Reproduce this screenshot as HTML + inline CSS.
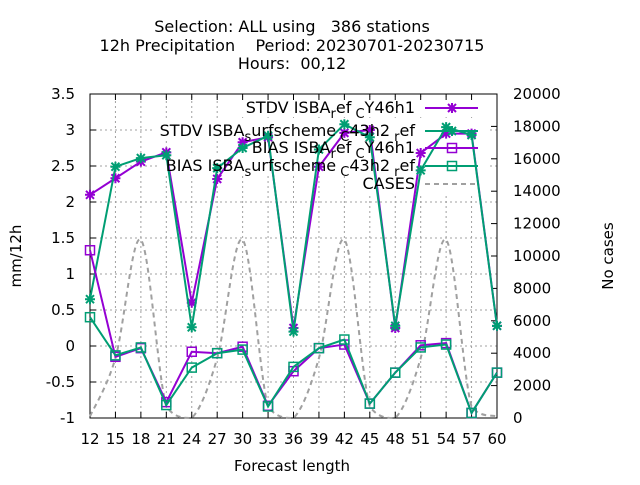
<!DOCTYPE html>
<html><head><meta charset="utf-8"><style>
body{margin:0;background:#fff}
svg{font-family:"DejaVu Sans","Liberation Sans",sans-serif;font-size:15px}
.big{font-size:16px}
</style></head><body>
<svg id="c" width="640" height="480">
<g id="g"></g>
</svg>
<script>
const hours=[12,15,18,21,24,27,30,33,36,39,42,45,48,51,54,57,60];
const stdvRef=[2.1,2.33,2.56,2.69,0.6,2.32,2.83,2.9,0.25,2.49,2.96,3.0,0.25,2.68,2.95,2.95,0.28];
const stdvSurf=[0.65,2.49,2.61,2.65,0.26,2.47,2.75,2.92,0.2,2.73,3.08,2.9,0.28,2.44,3.04,2.93,0.28];
const biasRef=[1.33,-0.15,-0.03,-0.78,-0.08,-0.1,-0.01,-0.83,-0.35,-0.03,0.02,-0.8,-0.37,0.01,0.04,-0.93,-0.37];
const biasSurf=[0.4,-0.13,-0.02,-0.82,-0.3,-0.1,-0.05,-0.84,-0.29,-0.03,0.09,-0.8,-0.37,-0.02,0.02,-0.93,-0.37];
const cases=[100,3700,11000,700,0,3700,11000,700,0,3700,11000,700,0,3700,11000,700,100];
const yTicks=[-1,-0.5,0,0.5,1,1.5,2,2.5,3,3.5];
const y2Ticks=[0,2000,4000,6000,8000,10000,12000,14000,16000,18000,20000];
const X0=90,X1=497,Y0=418,Y1=94;
const xs=h=>X0+(h-12)/(60-12)*(X1-X0);
const ys=v=>Y0-(v+1)/4.5*(Y0-Y1);
const y2=v=>Y0-v/20000*(Y0-Y1);
const NS='http://www.w3.org/2000/svg';
const g=document.getElementById('g');
function el(t,a,txt){const e=document.createElementNS(NS,t);for(const k in a)e.setAttribute(k,a[k]);if(txt!==undefined)e.textContent=txt;g.appendChild(e);return e;}
hours.forEach(h=>{const e=el('line',{x1:xs(h),x2:xs(h),y1:Y0,y2:Y1,stroke:'#a0a0a0','stroke-dasharray':'2,3','stroke-width':1});

});
yTicks.forEach(v=>{const e=el('line',{x1:X0,x2:X1,y1:ys(v),y2:ys(v),stroke:'#a0a0a0','stroke-dasharray':'2,3','stroke-width':1});

});
[[238,97,250,20],[153,120,335,20],[245,138,243,20],[160,156,328,20],[360,174,128,20]].forEach(b=>{
const e=el('rect',{x:b[0],y:b[1],width:b[2],height:b[3],fill:'#fff'});

});
const fr=el('rect',{x:X0,y:Y1,width:X1-X0,height:Y0-Y1,fill:'none',stroke:'#000'});


hours.forEach(h=>{el('line',{x1:xs(h),x2:xs(h),y1:Y0,y2:Y0-6,stroke:'#000'});el('line',{x1:xs(h),x2:xs(h),y1:Y1,y2:Y1+6,stroke:'#000'});
const t=el('text',{x:xs(h),y:444,'text-anchor':'middle'},h);

});
yTicks.forEach(v=>{el('line',{x1:X0,x2:X0+6,y1:ys(v),y2:ys(v),stroke:'#000'});
const t=el('text',{x:75,y:ys(v)+5,'text-anchor':'end'},v);

});
y2Ticks.forEach(v=>{el('line',{x1:X1,x2:X1-6,y1:y2(v),y2:y2(v),stroke:'#000'});
const t=el('text',{x:513,y:y2(v)+5,'text-anchor':'start'},v);

});
function star(x,y,col,s){return el('path',{d:`M${x-s},${y}H${x+s}M${x},${y-s}V${y+s}M${x-s*0.8},${y-s*0.8}L${x+s*0.8},${y+s*0.8}M${x-s*0.8},${y+s*0.8}L${x+s*0.8},${y-s*0.8}`,stroke:col,'stroke-width':2});}
function series(vals,sc,col,marker,name){
const pts=vals.map((v,i)=>xs(hours[i])+','+sc(v)).join(' ');
const p=el('polyline',{points:pts,fill:'none',stroke:col,'stroke-width':2});


vals.forEach((v,i)=>{const x=xs(hours[i]),y=sc(v);let m;
if(marker==='sq'){m=el('rect',{x:x-4.5,y:y-4.5,width:9,height:9,fill:'none',stroke:col,'stroke-width':1.5});}
else{m=star(x,y,col,5);}

});}
(function(){const P=cases.map((v,i)=>[xs(hours[i]),y2(v)]);let d='M'+P[0][0]+','+P[0][1];
for(let i=0;i<P.length-1;i++){const p0=P[Math.max(i-1,0)],p1=P[i],p2=P[i+1],p3=P[Math.min(i+2,P.length-1)];
let c1y=p1[1]+(p2[1]-p0[1])/6,c2y=p2[1]-(p3[1]-p1[1])/6;c1y=Math.min(c1y,Y0);c2y=Math.min(c2y,Y0);
d+=` C${p1[0]+(p2[0]-p0[0])/6},${c1y} ${p2[0]-(p3[0]-p1[0])/6},${c2y} ${p2[0]},${p2[1]}`;}
const p=el('path',{d:d,fill:'none',stroke:'#a0a0a0','stroke-width':2,'stroke-dasharray':'5,4'});

})();
series(stdvRef,ys,'#9400d3','st','stdv-ref');
series(stdvSurf,ys,'#009e73','st','stdv-surf');
series(biasRef,ys,'#9400d3','sq','bias-ref');
series(biasSurf,ys,'#009e73','sq','bias-surf');
const leg=[['STDV ISBA',['r','ef'],['C','Y46h1'],'#9400d3','st',108],
['STDV ISBA',['s','urfscheme'],['C','43h2'],'#009e73','st',131,true],
['BIAS ISBA',['r','ef'],['C','Y46h1'],'#9400d3','sq',148],
['BIAS ISBA',['s','urfscheme'],['C','43h2'],'#009e73','sq',166,true]];
leg.forEach(L=>{const y=L[5];
const t=el('text',{x:415,y:y+5,'text-anchor':'end',class:'big'});


const parts=[[L[0],0],[L[1][0],5],[L[1][1],-5],[' '+L[2][0],5],[L[2][1],-5]];
if(L[6]){parts.push([' r',5],['ef',-5]);}
parts.forEach(p=>{const s=document.createElementNS(NS,'tspan');s.setAttribute('dy',p[1]);if(p[1]>0)s.setAttribute('font-size','13');s.textContent=p[0];t.appendChild(s);});
t.style.whiteSpace='pre';
el('line',{x1:425,x2:478,y1:y,y2:y,stroke:L[3],'stroke-width':2});
const x=452;
if(L[4]==='sq')el('rect',{x:x-4.5,y:y-4.5,width:9,height:9,fill:'none',stroke:L[3],'stroke-width':1.5});
else star(x,y,L[3],5);});
const lc=el('text',{x:415,y:189,'text-anchor':'end',class:'big'},'CASES');


el('line',{x1:425,x2:478,y1:184,y2:184,stroke:'#a0a0a0','stroke-width':2,'stroke-dasharray':'5,4'});
[['Selection: ALL using   386 stations',32],['12h Precipitation    Period: 20230701-20230715',51],['Hours:  00,12',69]].forEach(a=>{
const t=el('text',{x:292,y:a[1],'text-anchor':'middle',class:'big'},a[0]);t.style.whiteSpace='pre';

});
const xl=el('text',{x:292,y:471,'text-anchor':'middle'},'Forecast length');


const yl=el('text',{x:21,y:256,'text-anchor':'middle',transform:'rotate(-90 21 256)'},'mm/12h');


const y2l=el('text',{x:613,y:256,'text-anchor':'middle',transform:'rotate(-90 613 256)'},'No cases');


</script>
</body></html>
